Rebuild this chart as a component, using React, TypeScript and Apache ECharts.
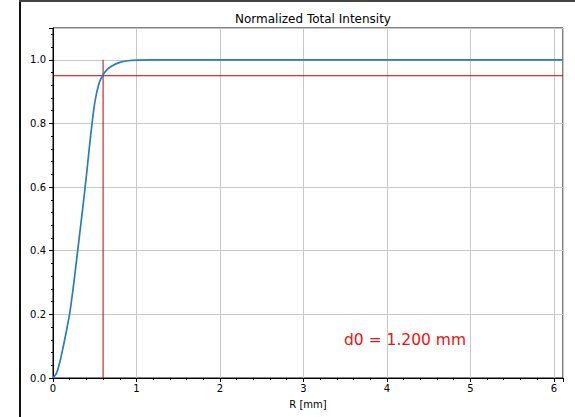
import React, { useEffect, useRef } from "react";
import * as echarts from "echarts";

const rValues = [0, 0.04, 0.08, 0.12, 0.16, 0.2, 0.25, 0.3, 0.35, 0.4, 0.45, 0.5, 0.55, 0.6, 0.65, 0.7, 0.8, 0.9, 1.0, 1.2, 1.5, 2.0, 3.0, 4.0, 5.0, 6.11];
const intensity = [0, 0.014, 0.048, 0.095, 0.147, 0.203, 0.3, 0.41, 0.52, 0.635, 0.76, 0.865, 0.925, 0.953, 0.97, 0.98, 0.992, 0.997, 0.999, 1.0, 1.0, 1.0, 1.0, 1.0, 1.0, 1.0];
const thresholdX = [0, 6.11];
const thresholdY = [0.95, 0.95];
const d0X = [0.6, 0.6];
const d0Y = [0, 1.0];
const annotation = "d0 = 1.200 mm";
const title = "Normalized Total Intensity";
const xName = "R [mm]";

export default function App() {
  const ref = useRef<HTMLDivElement>(null);
  useEffect(() => {
    if (!ref.current) return;
    const chart = echarts.init(ref.current, null, { renderer: "svg" });
    const font = "DejaVu Sans";
    const red = "#c00000";
    chart.setOption({
      animation: false,
      backgroundColor: "#fff",
      title: {
        text: title,
        left: 308,
        textAlign: "center",
        top: 8,
        textStyle: { fontFamily: font, fontSize: 12, fontWeight: "normal", color: "#000" },
      },
      grid: {
        left: 53,
        right: 12,
        top: 28,
        bottom: 39,
        show: true,
        borderColor: "#000",
        borderWidth: 1,
        backgroundColor: "transparent",
      },
      xAxis: {
        type: "value",
        min: 0,
        max: 6.11,
        interval: 1,
        name: xName,
        nameLocation: "middle",
        nameGap: 21,
        nameTextStyle: { fontFamily: font, fontSize: 10, color: "#000" },
        axisLine: { show: true, onZero: false, lineStyle: { color: "#000", width: 1 } },
        axisTick: { show: true, length: 4, lineStyle: { color: "#000" } },
        minorTick: { show: true, splitNumber: 5, length: 2, lineStyle: { color: "#000" } },
        axisLabel: {
          fontFamily: font,
          fontSize: 10,
          color: "#000",
          margin: 5,
          formatter: (v: number) => (v > 6.05 ? "" : String(Math.round(v))),
        },
        splitLine: { show: true, lineStyle: { color: "#c8c8c8", width: 1 } },
      },
      yAxis: {
        type: "value",
        min: 0,
        max: 1.1,
        interval: 0.2,
        axisLine: { show: true, onZero: false, lineStyle: { color: "#000", width: 1 } },
        axisTick: { show: true, length: 4, lineStyle: { color: "#000" } },
        minorTick: { show: true, splitNumber: 5, length: 2, lineStyle: { color: "#000" } },
        axisLabel: {
          fontFamily: font,
          fontSize: 10,
          color: "#000",
          margin: 7,
          formatter: (v: number) => (v > 1.05 ? "" : v.toFixed(1)),
        },
        splitLine: { show: true, lineStyle: { color: "#c8c8c8", width: 1 } },
      },
      series: [
        {
          type: "line",
          data: thresholdX.map((x, i) => [x, thresholdY[i]]),
          showSymbol: false,
          silent: true,
          lineStyle: { color: red, width: 1 },
          z: 2,
        },
        {
          type: "line",
          data: d0X.map((x, i) => [x, d0Y[i]]),
          showSymbol: false,
          silent: true,
          lineStyle: { color: red, width: 1 },
          z: 2,
        },
        {
          type: "line",
          data: rValues.map((r, i) => [r, intensity[i]]),
          showSymbol: false,
          smooth: 0.25,
          lineStyle: { color: "#2a7db8", width: 1.7 },
          z: 3,
        },
      ],
      graphic: [
        {
          type: "text",
          left: 344,
          top: 332,
          style: { text: annotation, fontFamily: font, fontSize: 15.5, fill: "#ee1111" },
        },
        {
          type: "line",
          shape: { x1: 20, y1: 0, x2: 20, y2: 417 },
          style: { stroke: "#111", lineWidth: 2 },
        },
        {
          type: "line",
          shape: { x1: 19, y1: 1, x2: 575, y2: 1 },
          style: { stroke: "#444", lineWidth: 2 },
        },
      ],
    });
    return () => chart.dispose();
  }, []);
  return (
    <div
      ref={ref}
      style={{ position: "fixed", left: 0, top: 0, width: 575, height: 417 }}
    />
  );
}
